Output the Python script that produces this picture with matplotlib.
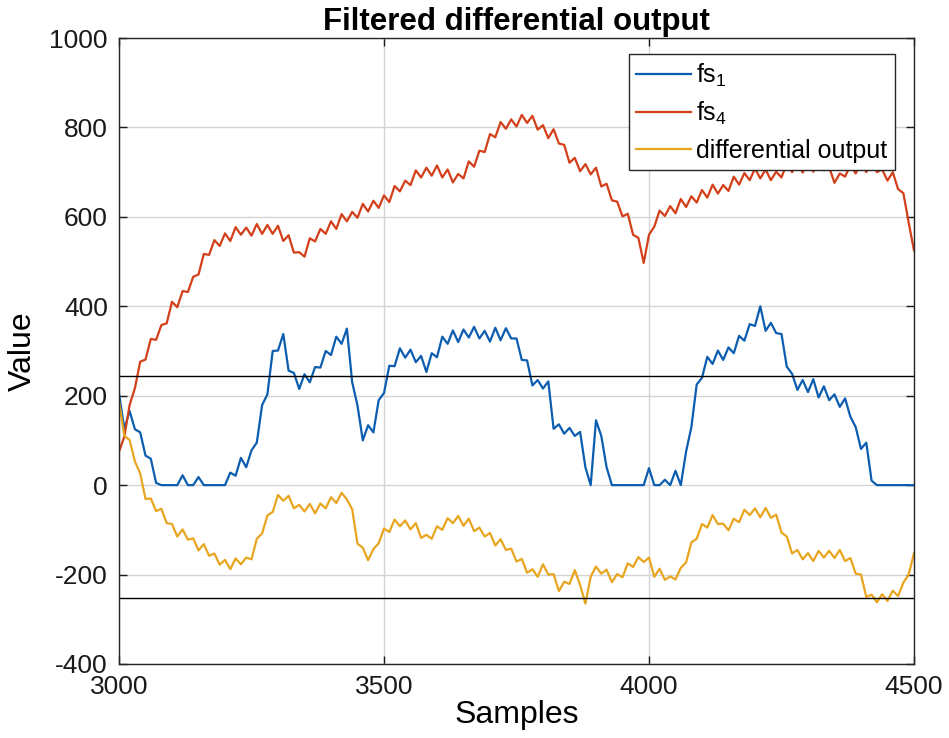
import numpy as np
import matplotlib
matplotlib.use('Agg')
import matplotlib.pyplot as plt

plt.rcParams['font.family'] = ['Liberation Sans', 'DejaVu Sans']
plt.rcParams['mathtext.fontset'] = 'custom'
plt.rcParams['mathtext.rm'] = 'Liberation Sans'
plt.rcParams['axes.unicode_minus'] = False

# sample index, one reading every 10 samples
samples = np.arange(3000, 4501, 10)

fs1 = [205, 126, 166, 125, 118, 66, 59, 5, 0, 0,
       0, 0, 22, 0, 0, 18, 0, 0, 0, 0,
       0, 28, 21, 61, 40, 78, 95, 179, 203, 300,
       301, 338, 256, 251, 215, 248, 230, 264, 263, 300,
       291, 332, 316, 350, 230, 178, 100, 134, 118, 190,
       206, 267, 266, 306, 285, 303, 275, 289, 253, 295,
       286, 332, 316, 346, 320, 348, 330, 354, 328, 345,
       321, 352, 324, 351, 328, 328, 280, 279, 223, 235,
       216, 232, 126, 136, 115, 128, 110, 119, 40, 0,
       145, 110, 40, 0, 0, 0, 0, 0, 0, 0,
       38, 0, 0, 12, 0, 32, 0, 75, 130, 225,
       240, 287, 271, 301, 280, 308, 295, 334, 323, 360,
       356, 400, 345, 363, 340, 338, 265, 249, 213, 235,
       208, 237, 196, 221, 190, 203, 175, 194, 153, 130,
       81, 95, 10, 0, 0, 0, 0, 0, 0, 0,
       0]

fs4 = [75, 108, 179, 217, 276, 281, 327, 325, 358, 362,
       410, 398, 434, 432, 466, 471, 517, 515, 548, 535,
       563, 546, 577, 560, 576, 558, 584, 562, 582, 562,
       580, 546, 559, 520, 521, 511, 552, 545, 573, 562,
       590, 573, 606, 590, 611, 598, 629, 612, 636, 620,
       648, 633, 669, 657, 681, 671, 704, 688, 710, 692,
       715, 688, 706, 677, 696, 686, 724, 712, 748, 745,
       785, 778, 812, 797, 818, 802, 828, 810, 826, 795,
       805, 776, 796, 764, 761, 721, 732, 702, 718, 695,
       710, 668, 674, 637, 634, 601, 607, 560, 553, 497,
       560, 578, 614, 602, 624, 608, 640, 622, 646, 632,
       660, 643, 672, 652, 671, 658, 690, 672, 698, 682,
       708, 686, 706, 682, 701, 688, 720, 700, 720, 699,
       722, 701, 727, 704, 711, 676, 697, 690, 716, 697,
       720, 700, 726, 700, 706, 681, 700, 662, 653, 587,
       525]

diff_out = [188, 110, 101, 53, 26, -31, -30, -58, -53, -85,
            -87, -115, -99, -122, -119, -146, -132, -158, -153, -178,
            -167, -188, -164, -177, -162, -166, -120, -108, -68, -60,
            -22, -35, -24, -52, -44, -59, -42, -63, -41, -52,
            -27, -40, -17, -32, -54, -131, -140, -168, -143, -130,
            -97, -105, -77, -92, -79, -99, -85, -118, -111, -120,
            -92, -100, -74, -85, -69, -91, -75, -103, -95, -115,
            -107, -135, -121, -145, -142, -171, -165, -196, -188, -205,
            -177, -200, -199, -237, -216, -221, -190, -223, -265, -205,
            -182, -198, -189, -217, -199, -206, -175, -183, -161, -172,
            -162, -205, -187, -212, -204, -211, -185, -173, -128, -120,
            -87, -95, -67, -87, -86, -101, -75, -83, -55, -67,
            -52, -72, -51, -73, -66, -106, -115, -153, -145, -166,
            -152, -170, -147, -162, -147, -163, -145, -170, -163, -198,
            -200, -250, -245, -262, -244, -259, -236, -248, -218, -200,
            -152]

# thresholds
upper_thr = 245
lower_thr = -252

fig = plt.figure(figsize=(9.49, 7.38), dpi=100)
ax = fig.add_axes([0.1254, 0.1003, 0.8377, 0.8482])

ax.plot(samples, fs1, color='#0C5DB0', lw=1.6, label=r'fs$_\mathregular{1}$')
ax.plot(samples, fs4, color='#D23F19', lw=1.6, label=r'fs$_\mathregular{4}$')
ax.plot(samples, diff_out, color='#E8A520', lw=1.6, label='differential output')
ax.axhline(upper_thr, color='black', lw=1.0)
ax.axhline(lower_thr, color='black', lw=1.0)

ax.set_xlim(3000, 4500)
ax.set_ylim(-400, 1000)
ax.set_xticks([3000, 3500, 4000, 4500])
ax.set_yticks(range(-400, 1001, 200))
ax.grid(True, color='#d4d4d4', lw=1.0)
ax.set_axisbelow(True)
ax.tick_params(direction='in', length=6, width=1, top=True, right=True,
               labelsize=19, colors='#1a1a1a', pad=8)
for sp in ax.spines.values():
    sp.set_color('#262626')
    sp.set_linewidth(1.0)

ax.set_title('Filtered differential output', fontsize=22.5, fontweight='bold', pad=6)
ax.set_xlabel('Samples', fontsize=23, labelpad=1)
ax.set_ylabel('Value', fontsize=23, labelpad=8)

leg = ax.legend(loc='upper right', bbox_to_anchor=(0.976, 0.974), borderaxespad=0,
                fontsize=18, handlelength=2.2, labelspacing=0.45, fancybox=False,
                framealpha=1, edgecolor='#262626', borderpad=0.3, handletextpad=0.2)
leg.get_frame().set_linewidth(1.0)

fig.savefig('out.png', dpi=100)
